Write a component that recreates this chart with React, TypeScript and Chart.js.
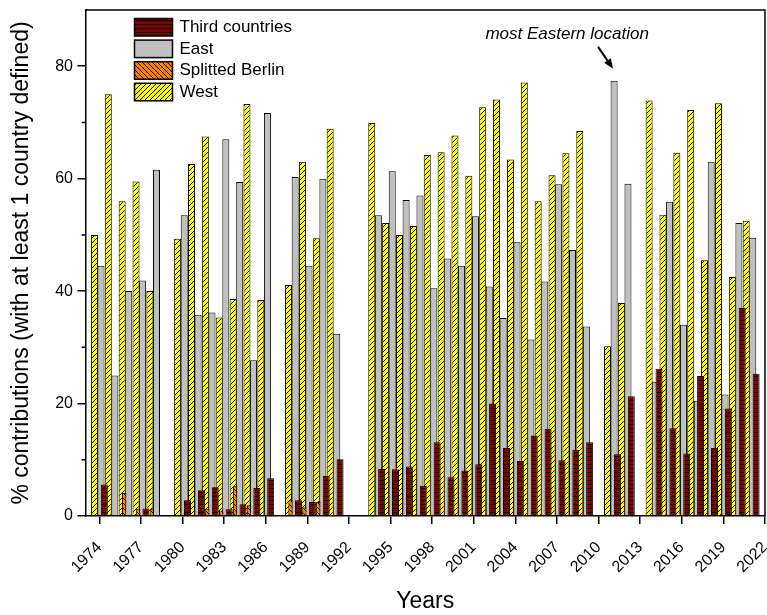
import React, { useEffect, useRef } from 'react';
import { Chart, registerables } from 'chart.js';

Chart.register(...registerables);

// ---------------- data ----------------
const years = [
  1974, 1975, 1976, 1977, 1978, 1979, 1980, 1981, 1982, 1983,
  1984, 1985, 1986, 1987, 1988, 1989, 1990, 1991, 1992, 1993,
  1994, 1995, 1996, 1997, 1998, 1999, 2000, 2001, 2002, 2003,
  2004, 2005, 2006, 2007, 2008, 2009, 2010, 2011, 2012, 2013,
  2014, 2015, 2016, 2017, 2018, 2019, 2020, 2021, 2022,
];

const thirdCountries: (number | null)[] = [
  5.6, null, null, 1.35, null, null, 2.8, 4.6, 5.1, 1.2,
  2.1, 5.0, 6.7, null, 2.8, 2.5, 7.1, 10.1, null, null,
  8.35, 8.3, 8.8, 5.4, 13.1, 6.9, 8.1, 9.2, 20.0, 12.1,
  9.8, 14.3, 15.5, 9.9, 11.8, 13.1, null, 11.0, 21.3, null,
  26.2, 15.6, 11.1, 24.9, 12.1, 19.1, 37.0, 25.3, null,
];

const east: (number | null)[] = [
  44.5, 25.0, 40.0, 41.9, 61.6, null, 53.5, 35.8, 36.2, 67.0,
  59.4, 27.7, 71.7, null, 60.3, 44.5, 60.0, 32.4, null, null,
  53.5, 61.3, 56.2, 57.0, 40.5, 45.8, 44.5, 53.3, 40.8, 35.2,
  48.7, 31.4, 41.7, 59.0, 47.3, 33.7, null, 77.4, 59.1, null,
  23.9, 55.9, 34.0, 20.5, 63.0, 21.6, 52.1, 49.5, null,
];

const splittedBerlin: (number | null)[] = [
  null, null, 4.1, 1.3, 1.3, null, null, null, 1.2, 1.0,
  5.3, 1.9, null, null, 2.8, 1.5, 2.5, null, null, null,
  null, null, null, null, null, null, null, null, null, null,
  null, null, null, null, null, null, null, null, null, null,
  null, null, null, null, null, null, null, null, null,
];

const west: (number | null)[] = [
  50.0, 75.0, 56.0, 59.5, 40.0, null, 49.3, 62.6, 67.5, 35.3,
  38.6, 73.3, 38.4, null, 41.1, 63.0, 49.4, 68.9, null, null,
  69.9, 52.1, 50.0, 51.6, 64.2, 64.7, 67.7, 60.5, 72.7, 74.1,
  63.4, 77.1, 56.0, 60.6, 64.5, 68.5, null, 30.2, 37.9, null,
  73.9, 53.6, 64.6, 72.2, 45.5, 73.4, 42.5, 52.5, null,
];

const seriesLabels = ['Third countries', 'East', 'Splitted Berlin', 'West'];
const xTickYears = [1974, 1977, 1980, 1983, 1986, 1989, 1992, 1995, 1998, 2001, 2004, 2007, 2010, 2013, 2016, 2019, 2022];
const yTickValues = [0, 20, 40, 60, 80];
const yMinorTickValues = [10, 30, 50, 70];
const annotationText = 'most Eastern location';
const annotationYear = 2011;

// ---------------- styling helpers ----------------
const FONT = "'Liberation Sans', Arial, Helvetica, sans-serif";
// group offsets (in years) of each series relative to its year
const OFFSETS = [0.357, 0.119, -0.119, -0.357];

function makePattern(
  ctx: CanvasRenderingContext2D,
  bg: string,
  w: number,
  h: number,
  draw: (g: CanvasRenderingContext2D, w: number, h: number) => void
): CanvasPattern | string {
  const c = document.createElement('canvas');
  c.width = w;
  c.height = h;
  const g = c.getContext('2d');
  if (!g) return bg;
  g.fillStyle = bg;
  g.fillRect(0, 0, w, h);
  g.strokeStyle = '#000';
  g.lineWidth = 1;
  draw(g, w, h);
  return ctx.createPattern(c, 'repeat') || bg;
}

function points(values: (number | null)[], offset: number) {
  const out: { x: number; y: number }[] = [];
  values.forEach((v, i) => {
    if (v !== null && v !== undefined) out.push({ x: years[i] + offset, y: v });
  });
  return out;
}

const frameAndExtras = {
  id: 'frameAndExtras',
  afterDraw(chart: any) {
    const { ctx, chartArea } = chart;
    const { left, right, top, bottom } = chartArea;
    const yScale = chart.scales.y;
    const xScale = chart.scales.x;
    ctx.save();
    // top and right frame
    ctx.strokeStyle = '#000';
    ctx.lineWidth = 1.5;
    ctx.beginPath();
    ctx.moveTo(left, top);
    ctx.lineTo(right, top);
    ctx.lineTo(right, bottom);
    ctx.stroke();
    // minor y ticks
    ctx.beginPath();
    yMinorTickValues.forEach((v) => {
      const py = yScale.getPixelForValue(v);
      ctx.moveTo(left - 4, py);
      ctx.lineTo(left, py);
    });
    ctx.stroke();

    // legend
    const ds = chart.data.datasets;
    const lx = left + 49;
    let ly = top + 8.5;
    ctx.font = `17px ${FONT}`;
    ctx.textBaseline = 'middle';
    ctx.textAlign = 'left';
    ds.forEach((d: any) => {
      ctx.fillStyle = d.backgroundColor;
      ctx.fillRect(lx, ly, 38, 17.5);
      ctx.lineWidth = 1.5;
      ctx.strokeStyle = '#000';
      ctx.strokeRect(lx, ly, 38, 17.5);
      ctx.fillStyle = '#000';
      ctx.fillText(d.label, lx + 45, ly + 9);
      ly += 21.6;
    });

    // annotation with arrow
    const idx = years.indexOf(annotationYear);
    const val = east[idx] as number;
    const tipX = xScale.getPixelForValue(annotationYear + OFFSETS[1]) - 1;
    const tipY = yScale.getPixelForValue(val) - 12;
    const startX = tipX - 15;
    const startY = tipY - 22;
    ctx.strokeStyle = '#000';
    ctx.fillStyle = '#000';
    ctx.lineWidth = 2;
    ctx.beginPath();
    ctx.moveTo(startX, startY);
    const ang = Math.atan2(tipY - startY, tipX - startX);
    const headLen = 10;
    const bx = tipX - headLen * Math.cos(ang);
    const by = tipY - headLen * Math.sin(ang);
    ctx.lineTo(bx, by);
    ctx.stroke();
    ctx.beginPath();
    ctx.moveTo(tipX, tipY);
    ctx.lineTo(bx + 4 * Math.sin(ang), by - 4 * Math.cos(ang));
    ctx.lineTo(bx - 4 * Math.sin(ang), by + 4 * Math.cos(ang));
    ctx.closePath();
    ctx.fill();
    ctx.font = `italic 17px ${FONT}`;
    ctx.textAlign = 'center';
    ctx.textBaseline = 'middle';
    ctx.fillText(annotationText, tipX - 46, tipY - 35);
    ctx.restore();
  },
};

export default function App() {
  const ref = useRef<HTMLCanvasElement | null>(null);

  useEffect(() => {
    const canvas = ref.current;
    if (!canvas) return;
    const ctx = canvas.getContext('2d');
    if (!ctx) return;

    const redFill = makePattern(ctx, '#800000', 8, 4, (g, w) => {
      g.beginPath();
      g.moveTo(0, 0.5);
      g.lineTo(w, 0.5);
      g.stroke();
    });
    const grayFill = '#C0C0C0';
    const orangeFill = makePattern(ctx, '#FF8000', 5, 5, (g, w, h) => {
      g.beginPath();
      g.moveTo(0, 0);
      g.lineTo(w, h);
      g.moveTo(-1, h - 1);
      g.lineTo(1, h + 1);
      g.moveTo(w - 1, -1);
      g.lineTo(w + 1, 1);
      g.stroke();
    });
    const yellowFill = makePattern(ctx, '#FFFF00', 5, 5, (g, w, h) => {
      g.beginPath();
      g.moveTo(0, h);
      g.lineTo(w, 0);
      g.moveTo(-1, 1);
      g.lineTo(1, -1);
      g.moveTo(w - 1, h + 1);
      g.lineTo(w + 1, h - 1);
      g.stroke();
    });

    const fills = [redFill, grayFill, orangeFill, yellowFill];
    const values = [thirdCountries, east, splittedBerlin, west];

    Chart.defaults.font.family = FONT;
    Chart.defaults.color = '#000';

    const axisCommon = {
      border: { display: true, color: '#000', width: 1.5 },
    };

    const chart = new Chart(ctx, {
      type: 'bar',
      data: {
        datasets: seriesLabels.map((label, i) => ({
          label,
          data: points(values[i], OFFSETS[i]),
          backgroundColor: fills[i] as any,
          borderColor: '#000',
          borderWidth: 1,
          maxBarThickness: 7,
          barPercentage: 50,
          categoryPercentage: 1,
          grouped: false,
        })),
      },
      options: {
        animation: false,
        responsive: false,
        events: [],
        layout: { padding: { top: 10, right: 2, left: 0, bottom: 0 } },
        plugins: {
          legend: { display: false },
          tooltip: { enabled: false },
        },
        scales: {
          x: {
            type: 'linear',
            min: 1973,
            max: 2022,
            offset: false,
            afterBuildTicks: (s: any) => {
              s.ticks = xTickYears.map((v) => ({ value: v }));
            },
            afterFit: (s: any) => {
              s.height = 99;
              s.paddingLeft = 0;
              s.paddingRight = 0;
            },
            ticks: {
              autoSkip: false,
              minRotation: 45,
              maxRotation: 45,
              padding: 14,
              font: { size: 16 },
              color: '#000',
              callback: (v: any) => String(v),
            },
            grid: { offset: false, drawOnChartArea: false, drawTicks: true, tickLength: 8, color: '#000', lineWidth: 1.5 },
            ...axisCommon,
            title: {
              display: true,
              text: 'Years',
              color: '#000',
              font: { size: 23, lineHeight: 1 },
              padding: { top: 0, bottom: 1.5 },
            },
          },
          y: {
            type: 'linear',
            min: 0,
            max: 90,
            afterBuildTicks: (s: any) => {
              s.ticks = yTickValues.map((v) => ({ value: v }));
            },
            afterFit: (s: any) => {
              s.width = 85.5;
              s.paddingTop = 0;
              s.paddingBottom = 0;
            },
            ticks: {
              padding: 4.5,
              font: { size: 16 },
              color: '#000',
              callback: (v: any) => String(v),
            },
            grid: { drawOnChartArea: false, drawTicks: true, tickLength: 8, color: '#000', lineWidth: 1.5 },
            ...axisCommon,
            title: {
              display: true,
              text: '% contributions (with at least 1 country defined)',
              color: '#000',
              font: { size: 23, lineHeight: 1 },
              padding: { top: 10.5, bottom: 0 },
            },
          },
        },
      } as any,
      plugins: [frameAndExtras],
    });

    return () => chart.destroy();
  }, []);

  return (
    <div style={{ position: 'fixed', left: 0, top: 0, width: 767, height: 615, background: '#fff' }}>
      <canvas ref={ref} width={767} height={615} style={{ display: 'block', width: 767, height: 615 }} />
    </div>
  );
}
